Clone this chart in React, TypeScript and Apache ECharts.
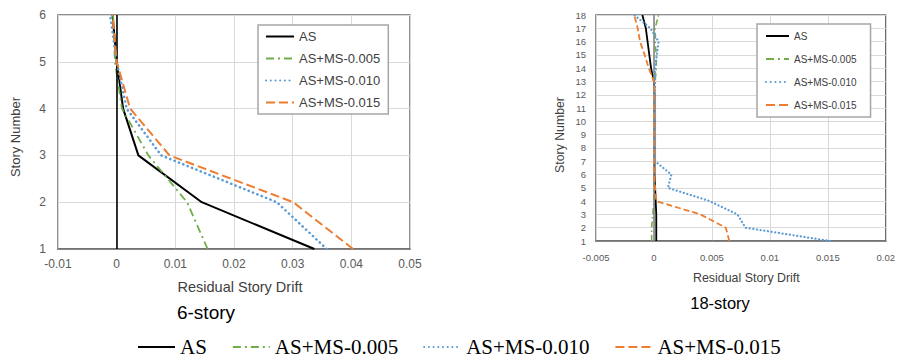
import React, { useEffect, useRef } from "react";
import * as echarts from "echarts";

const seriesNames = ["AS", "AS+MS-0.005", "AS+MS-0.010", "AS+MS-0.015"];

// 6-story building: residual story drift per story (stories 1..6)
const stories6 = [1, 2, 3, 4, 5, 6];
const as6 = [0.0337, 0.0145, 0.0037, 0.0011, 0.0, -0.0007];
const ms005_6 = [0.0155, 0.012, 0.0054, 0.0009, -0.0003, -0.0006];
const ms010_6 = [0.0358, 0.0273, 0.0076, 0.0017, 0.0, -0.0011];
const ms015_6 = [0.0403, 0.0301, 0.009, 0.0023, 0.0, -0.0007];

// 18-story building (stories 1..18)
const stories18 = [1, 2, 3, 4, 5, 6, 7, 8, 9, 10, 11, 12, 13, 14, 15, 16, 17, 18];
const as18 = [0.0002, 0.0002, 0.0002, 0.00015, 0.0001, 0.00005, 0.00005, 0.00005, 0.00005, 0.00005, 0.00005, 0.00005, 0.0, -0.00025, -0.0004, -0.00055, -0.0007, -0.001];
const ms005_18 = [-0.0002, -0.0002, -0.0001, 0.0, 0.0, 0.0, 0.0, 0.0, 0.0, 0.0, 0.0, 0.0, 0.0001, 0.0002, 0.0002, 0.0001, 0.0001, 0.0004];
const ms010_18 = [0.0152, 0.0079, 0.0072, 0.0048, 0.0012, 0.0015, 0.0001, 0.0001, 0.0001, 0.0001, 0.0001, 0.0001, 0.0001, 0.0001, 0.00025, 0.0004, -0.0003, -0.0017];
const ms015_18 = [0.0065, 0.0062, 0.004, 0.0002, 0.0001, 0.0, 0.0, 0.0, 0.0, 0.0, 0.0, 0.0, 0.0, -0.00045, -0.0008, -0.0012, -0.0014, -0.0017];

const xTicks6 = { min: -0.01, max: 0.05, interval: 0.01 };
const xTicks18 = { min: -0.005, max: 0.02, interval: 0.005 };

const colors = ["#000000", "#70ad47", "#5b9bd5", "#ed7d31"];

const pair = (xs: number[], ys: number[]) => xs.map((x, i) => [x, ys[i]]);
const fmt = (v: number) => String(parseFloat(v.toFixed(4)));

export default function App() {
  const ref = useRef<HTMLDivElement>(null);
  useEffect(() => {
    if (!ref.current) return;
    const chart = echarts.init(ref.current, undefined, { renderer: "svg" });
    const sans = "Liberation Sans, Arial, sans-serif";

    const lineStyles = (big: boolean) => [
      { color: colors[0], width: big ? 2 : 1.8, type: "solid" as const },
      { color: colors[1], width: big ? 1.8 : 1.6, type: big ? [8, 4, 2, 4] : [6, 3, 1.5, 3] },
      { color: colors[2], width: big ? 2.6 : 2.2, type: big ? [0.1, 4.6] : [0.1, 3.6], cap: "round" as const },
      { color: colors[3], width: big ? 2 : 1.8, type: big ? [9, 4] : [6, 3] },
    ];
    const ls6 = lineStyles(true);
    const ls18 = lineStyles(false);

    const data6 = [as6, ms005_6, ms010_6, ms015_6];
    const data18 = [as18, ms005_18, ms010_18, ms015_18];

    const series: any[] = [];
    data6.forEach((d, i) => {
      series.push({
        type: "line",
        name: seriesNames[i],
        xAxisIndex: 0,
        yAxisIndex: 0,
        symbol: "none",
        data: pair(d, stories6),
        lineStyle: ls6[i],
        itemStyle: { color: colors[i] },
        z: 3 + i,
        markLine:
          i === 0
            ? {
                silent: true,
                symbol: ["none", "none"],
                label: { show: false },
                lineStyle: { color: "#000", width: 1.6, type: "solid" },
                data: [{ xAxis: 0 }],
              }
            : undefined,
      });
    });
    data18.forEach((d, i) => {
      series.push({
        type: "line",
        name: seriesNames[i],
        xAxisIndex: 1,
        yAxisIndex: 1,
        symbol: "none",
        data: pair(d, stories18),
        lineStyle: ls18[i],
        itemStyle: { color: colors[i] },
        z: 3 + i,
        markLine:
          i === 0
            ? {
                silent: true,
                symbol: ["none", "none"],
                label: { show: false },
                lineStyle: { color: "#7f7f7f", width: 1.5, type: "solid" },
                data: [{ xAxis: 0 }],
              }
            : undefined,
      });
    });

    const splitLine = { show: true, lineStyle: { color: "#d9d9d9", width: 1 } };
    const hiddenSymbol = { opacity: 0 };

    chart.setOption({
      animation: false,
      backgroundColor: "#ffffff",
      grid: [
        { left: 58, top: 15, width: 352, height: 234, show: true, borderColor: "#6b6b6b", borderWidth: 1.5 },
        { left: 596, top: 15, width: 292, height: 226, show: true, borderColor: "#6b6b6b", borderWidth: 1.5 },
      ],
      xAxis: [
        {
          type: "value",
          gridIndex: 0,
          ...xTicks6,
          axisLine: { show: true, onZero: false, lineStyle: { color: "#6b6b6b", width: 1.5 } },
          axisTick: { show: false },
          splitLine,
          axisLabel: { formatter: fmt, fontFamily: sans, fontSize: 12, color: "#595959", margin: 9 },
          name: "Residual Story Drift",
          nameLocation: "middle",
          nameGap: 30,
          nameTextStyle: { fontFamily: sans, fontSize: 14.5, color: "#404040", padding: [0, 0, 0, 12] },
        },
        {
          type: "value",
          gridIndex: 1,
          ...xTicks18,
          axisLine: { show: true, onZero: false, lineStyle: { color: "#6b6b6b", width: 1.5 } },
          axisTick: { show: false },
          splitLine,
          axisLabel: { formatter: fmt, fontFamily: sans, fontSize: 9.5, color: "#595959", margin: 11 },
          name: "Residual Story Drift",
          nameLocation: "middle",
          nameGap: 31,
          nameTextStyle: { fontFamily: sans, fontSize: 12.4, color: "#404040", padding: [0, 0, 0, 11] },
        },
      ],
      yAxis: [
        {
          type: "value",
          gridIndex: 0,
          min: 1,
          max: 6,
          interval: 1,
          axisLine: { show: false },
          axisTick: { show: false },
          splitLine,
          axisLabel: { fontFamily: sans, fontSize: 12, color: "#595959", margin: 12 },
          name: "Story Number",
          nameLocation: "middle",
          nameGap: 36,
          nameTextStyle: { fontFamily: sans, fontSize: 13, color: "#404040", padding: [0, 10, 0, 0] },
        },
        {
          type: "value",
          gridIndex: 1,
          min: 1,
          max: 18,
          interval: 1,
          axisLine: { show: false },
          axisTick: { show: false },
          splitLine,
          axisLabel: { fontFamily: sans, fontSize: 9.5, color: "#595959", margin: 10 },
          name: "Story Number",
          nameLocation: "middle",
          nameGap: 30,
          nameTextStyle: { fontFamily: sans, fontSize: 12.3, color: "#404040", padding: [0, 14, 0, 0] },
        },
      ],
      legend: [
        {
          data: seriesNames,
          orient: "vertical",
          left: 258,
          top: 25,
          itemWidth: 28,
          itemHeight: 14,
          itemGap: 9,
          padding: [5, 8, 5, 7],
          backgroundColor: "#ffffff",
          borderColor: "#a6a6a6",
          borderWidth: 1.5,
          selectedMode: false,
          itemStyle: hiddenSymbol,
          textStyle: { fontFamily: sans, fontSize: 13, color: "#404040" },
          z: 10,
        },
        {
          data: seriesNames,
          orient: "vertical",
          left: 757,
          top: 24,
          itemWidth: 23,
          itemHeight: 14,
          itemGap: 9,
          padding: [5, 14, 5, 8],
          backgroundColor: "#ffffff",
          borderColor: "#a6a6a6",
          borderWidth: 1.5,
          selectedMode: false,
          itemStyle: hiddenSymbol,
          textStyle: { fontFamily: sans, fontSize: 10, color: "#404040", lineHeight: 14 },
          z: 10,
        },
        {
          data: seriesNames,
          orient: "horizontal",
          left: 137,
          top: 336,
          itemWidth: 37,
          itemHeight: 14,
          itemGap: 25,
          padding: 0,
          selectedMode: false,
          itemStyle: hiddenSymbol,
          textStyle: { fontFamily: "Liberation Serif, Times New Roman, serif", fontSize: 21, lineHeight: 22, color: "#000000" },
        },
      ],
      graphic: [
        {
          type: "text",
          x: 206,
          y: 312,
          style: {
            text: "6-story",
            fontFamily: sans,
            fontSize: 19,
            fill: "#000000",
            align: "center",
            verticalAlign: "middle",
          },
        },
        {
          type: "text",
          x: 720,
          y: 303,
          style: {
            text: "18-story",
            fontFamily: sans,
            fontSize: 16.5,
            fill: "#000000",
            align: "center",
            verticalAlign: "middle",
          },
        },
      ],
      series,
    });
    return () => chart.dispose();
  }, []);

  return (
    <div
      ref={ref}
      style={{ position: "fixed", left: 0, top: 0, width: 898, height: 360, background: "#fff" }}
    />
  );
}
